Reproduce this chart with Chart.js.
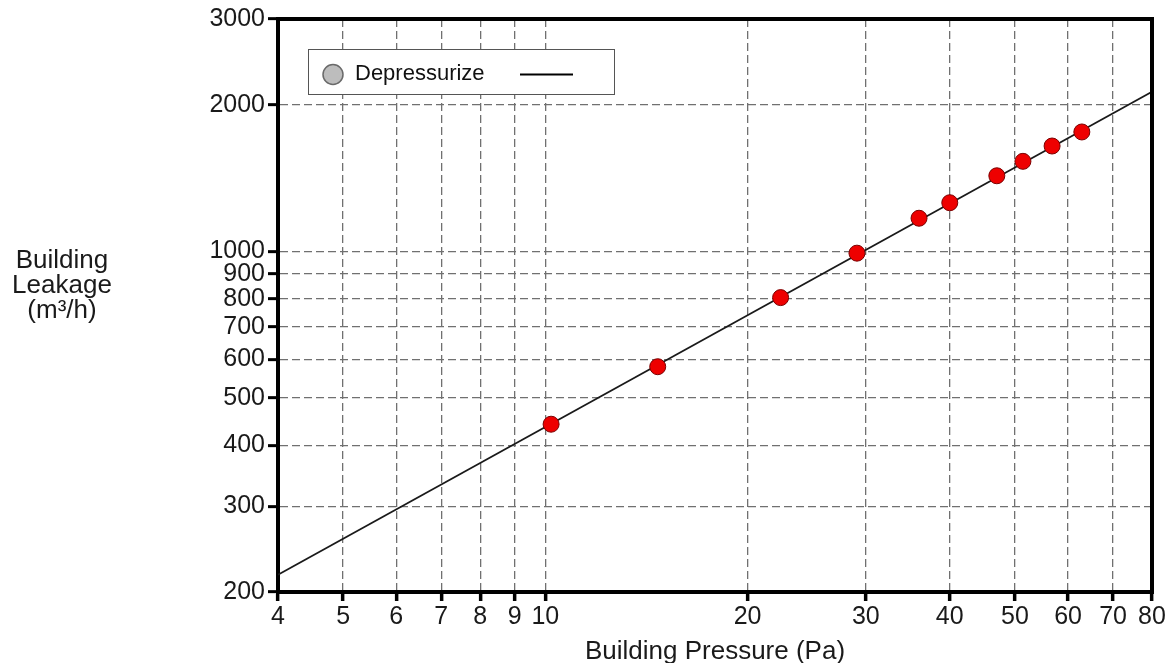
<!DOCTYPE html>
<html>
<head>
<meta charset="utf-8">
<script src="https://cdn.jsdelivr.net/npm/chart.js@4.4.1/dist/chart.umd.min.js"></script>
<style>
  html, body { margin: 0; padding: 0; background: #ffffff; }
  #wrap { width: 1168px; height: 663px; }
</style>
</head>
<body>
<div id="wrap"><canvas id="c" width="1168" height="663"></canvas></div>
<script>
// Measured test points
const pressurePa = [10.2, 14.7, 22.4, 29.1, 36.0, 40.0, 47.0, 51.4, 56.8, 62.9];
const leakageM3h = [442, 580, 804, 992, 1170, 1259, 1430, 1531, 1646, 1759];

// Fitted power-law line, end points at the axis limits
const fitPressure = [4, 80];
const fitLeakage = [217, 2128];

// Axis ticks
const xTicks = [4, 5, 6, 7, 8, 9, 10, 20, 30, 40, 50, 60, 70, 80];
const yTicks = [200, 300, 400, 500, 600, 700, 800, 900, 1000, 2000, 3000];

const xTitle = 'Building Pressure (Pa)';
const yTitleLines = ['Building', 'Leakage', '(m³/h)'];
const legendLabel = 'Depressurize';

const FONT = "'Liberation Sans', Arial, Helvetica, sans-serif";
const TEXT = '#1a1a1a';

// Thick frame on the top and right sides of the plot area
const framePlugin = {
  id: 'frame',
  afterDraw(chart) {
    const { ctx, chartArea: a } = chart;
    ctx.save();
    ctx.strokeStyle = '#000';
    ctx.lineWidth = 4;
    ctx.lineCap = 'square';
    ctx.beginPath();
    ctx.moveTo(a.left, a.top);
    ctx.lineTo(a.right, a.top);
    ctx.lineTo(a.right, a.bottom);
    ctx.stroke();
    ctx.restore();
  }
};

// Horizontal three-line y-axis title
const yTitlePlugin = {
  id: 'yTitle',
  afterDraw(chart) {
    const ctx = chart.ctx;
    ctx.save();
    ctx.fillStyle = TEXT;
    ctx.font = '26px ' + FONT;
    ctx.textAlign = 'center';
    ctx.textBaseline = 'alphabetic';
    yTitleLines.forEach((t, i) => ctx.fillText(t, 62, 268 + i * 25));
    ctx.restore();
  }
};

// Boxed legend in the upper left of the plot
const legendBoxPlugin = {
  id: 'legendBox',
  afterDraw(chart) {
    const ctx = chart.ctx;
    ctx.save();
    ctx.fillStyle = '#ffffff';
    ctx.fillRect(308.5, 49.5, 306, 45);
    ctx.strokeStyle = '#555';
    ctx.lineWidth = 1;
    ctx.strokeRect(308.5, 49.5, 306, 45);
    ctx.beginPath();
    ctx.arc(333, 74.5, 10, 0, Math.PI * 2);
    ctx.fillStyle = '#bdbdbd';
    ctx.fill();
    ctx.strokeStyle = '#6a6a6a';
    ctx.lineWidth = 1.5;
    ctx.stroke();
    ctx.fillStyle = '#111';
    ctx.font = '22px ' + FONT;
    ctx.textAlign = 'left';
    ctx.textBaseline = 'middle';
    ctx.fillText(legendLabel, 355, 74);
    ctx.beginPath();
    ctx.moveTo(520, 74.5);
    ctx.lineTo(573, 74.5);
    ctx.strokeStyle = '#000';
    ctx.lineWidth = 2;
    ctx.stroke();
    ctx.restore();
  }
};

const gridCommon = {
  color: '#707070',
  lineWidth: 1.3,
  tickColor: '#000',
  tickWidth: 3.5,
  tickLength: 9
};

new Chart(document.getElementById('c'), {
  type: 'scatter',
  data: {
    datasets: [
      {
        label: legendLabel,
        data: pressurePa.map((p, i) => ({ x: p, y: leakageM3h[i] })),
        backgroundColor: '#ee0000',
        borderColor: '#7a0000',
        borderWidth: 1,
        pointRadius: 8,
        pointHoverRadius: 8
      },
      {
        label: 'fit',
        data: fitPressure.map((p, i) => ({ x: p, y: fitLeakage[i] })),
        showLine: true,
        borderColor: '#1a1a1a',
        borderWidth: 1.8,
        pointRadius: 0,
        pointHoverRadius: 0
      }
    ]
  },
  options: {
    responsive: false,
    animation: false,
    devicePixelRatio: 1,
    layout: { padding: { top: 19, right: 16, bottom: 0, left: 0 } },
    plugins: {
      legend: { display: false },
      tooltip: { enabled: false }
    },
    scales: {
      x: {
        type: 'logarithmic',
        min: 4,
        max: 80,
        afterBuildTicks: s => { s.ticks = xTicks.map(v => ({ value: v })); },
        afterFit: s => { s.height = 71; },
        ticks: {
          callback: v => String(v),
          autoSkip: false,
          maxRotation: 0,
          padding: 1,
          color: TEXT,
          font: { family: FONT, size: 25 }
        },
        grid: gridCommon,
        border: { display: true, color: '#000', width: 4, dash: [8, 4] },
        title: {
          display: true,
          text: xTitle,
          color: TEXT,
          font: { family: FONT, size: 26, lineHeight: 0.88 },
          padding: { top: 0, bottom: 0 }
        }
      },
      y: {
        type: 'logarithmic',
        min: 200,
        max: 3000,
        afterBuildTicks: s => { s.ticks = yTicks.map(v => ({ value: v })); },
        afterFit: s => { s.width = 278; },
        ticks: {
          callback: v => String(v),
          autoSkip: false,
          padding: 3,
          color: TEXT,
          font: { family: FONT, size: 25 }
        },
        grid: Object.assign({}, gridCommon, { tickLength: 10, tickWidth: 3 }),
        border: { display: true, color: '#000', width: 4, dash: [8, 4] }
      }
    }
  },
  plugins: [framePlugin, yTitlePlugin, legendBoxPlugin]
});
</script>
</body>
</html>
